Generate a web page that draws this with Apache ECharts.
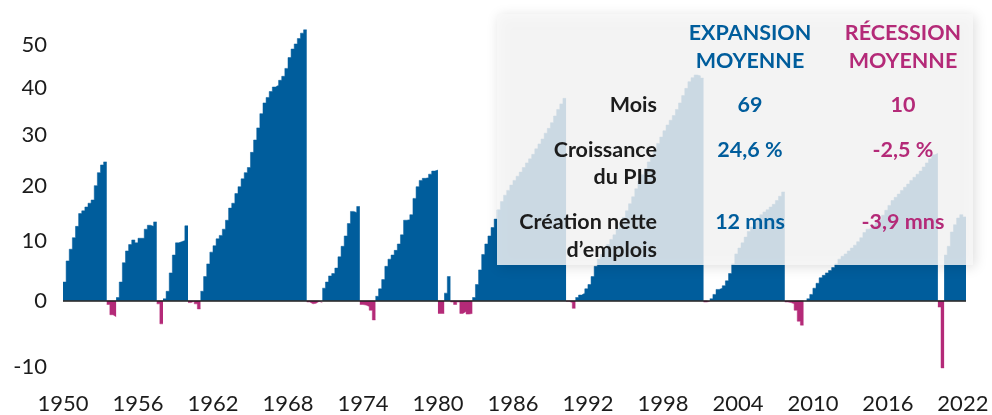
<!DOCTYPE html>
<html>
<head>
<meta charset="utf-8">
<script src="https://cdn.jsdelivr.net/npm/echarts@6/dist/echarts.min.js"></script>
<style>
  html, body { margin: 0; padding: 0; background: #fff; }
  #main { width: 992px; height: 415px; }
</style>
</head>
<body>
<div id="main"></div>
<script>
'use strict';

// x axis: quarters counted from 1950 Q1, 289 quarters up to 2022 Q1
var firstYear = 1950;
var quarterCount = 289;
var xTickYears = [1950, 1956, 1962, 1968, 1974, 1980, 1986, 1992, 1998, 2004, 2010, 2016, 2022];

// y axis tick labels (cumulative % change, log scale)
var yTicks = [-10, 0, 10, 20, 30, 40, 50];

// expansions: start quarter + cumulative growth (%) per quarter
var expansionStarts = ['1950-Q1', '1954-Q2', '1958-Q1', '1961-Q1', '1970-Q4', '1975-Q1',
                       '1980-Q3', '1982-Q4', '1991-Q1', '2001-Q4', '2009-Q3', '2020-Q3'];
var expansionValues = [
    [3.0, 6.5, 8.5, 10.5, 12.5, 14.8, 15.3, 16.0, 16.7, 17.3, 20.0, 22.5, 24.0, 24.6],
    [0.5, 3.0, 6.2, 8.2, 9.3, 10.1, 9.6, 10.4, 10.4, 12.0, 12.7, 12.5, 13.3],
    [0.3, 1.5, 4.5, 7.5, 9.6, 9.8, 10.0, 12.6],
    [1.5, 3.9, 6.0, 8.0, 9.1, 10.3, 10.9, 12.0, 13.6, 15.8, 16.7, 18.5, 19.8, 21.3, 22.5, 23.5, 26.5,
     29.0, 31.5, 34.5, 36.8, 38.0, 39.3, 40.3, 40.7, 41.8, 42.7, 44.5, 47.0, 49.0, 50.2, 51.5, 52.8, 53.6],
    [2.0, 3.0, 4.0, 4.4, 5.3, 7.2, 9.0, 10.8, 13.0, 15.2, 15.0, 16.1],
    [0.7, 1.9, 3.4, 5.6, 6.8, 7.5, 8.3, 9.4, 11.0, 13.6, 13.7, 14.6, 17.6, 19.8, 21.0, 21.4, 21.5, 22.2, 22.8, 23.0],
    [1.2, 3.9],
    [0.5, 2.6, 5.0, 7.6, 9.4, 10.8, 12.3, 13.8, 15.5, 17.0, 18.2, 19.1, 20.1, 21.0, 21.8, 22.6, 23.5, 24.4,
     25.2, 26.1, 27.2, 28.2, 29.2, 30.4, 31.4, 32.6, 34.0, 35.4, 36.6, 37.8],
    [0.5, 0.9, 1.2, 1.9, 2.6, 3.9, 5.6, 6.8, 7.6, 8.5, 9.3, 10.2, 11.0, 12.0, 13.0, 14.1, 15.3, 16.6, 17.9,
     19.4, 20.9, 22.1, 23.3, 24.6, 25.8, 27.0, 28.3, 29.6, 30.9, 32.1, 33.1, 34.1, 35.4, 36.8, 38.4, 40.0,
     41.5, 42.4, 43.0, 42.8, 42.3],
    [0.3, 1.0, 1.8, 2.0, 2.4, 3.2, 4.4, 6.0, 7.7, 8.7, 9.6, 10.6, 11.6, 12.4, 13.2, 14.0, 14.6, 15.1,
     15.5, 16.0, 16.5, 17.2, 18.0, 18.8],
    [0.3, 1.0, 2.0, 2.8, 3.7, 4.1, 4.5, 4.9, 5.4, 6.0, 6.8, 7.3, 7.7, 8.2, 8.7, 9.2, 9.8, 10.5, 11.4, 12.0,
     12.3, 12.7, 13.1, 13.7, 14.5, 15.4, 16.3, 17.2, 17.8, 18.4, 19.1, 19.7, 20.3, 21.0, 21.6, 22.2, 22.8,
     23.6, 24.4, 25.2, 26.0, 26.3],
    [7.5, 9.0, 11.5, 12.8, 14.0, 14.6, 14.2]
];

// recessions: start quarter + cumulative change (%) per quarter
var recessionStarts = ['1953-Q3', '1957-Q3', '1960-Q1', '1969-Q3', '1973-Q4', '1980-Q1',
                       '1981-Q1', '1990-Q2', '2001-Q2', '2007-Q4', '2020-Q1'];
var recessionValues = [
    [-0.6, -2.2, -2.5],
    [-0.5, -3.6],
    [-0.3, -0.1, -0.5, -1.3],
    [-0.2, -0.5, -0.4, -0.1, -0.3],
    [-0.6, -0.7, -0.9, -1.5, -3.0],
    [-2.0, -2.0],
    [-0.2, -0.6, -0.2, -2.0, -1.7, -2.1, -2.0],
    [-0.1, -0.3, -1.2],
    [-0.2, -0.1],
    [-0.2, -0.3, -0.5, -1.5, -3.2, -3.8],
    [-1.0, -10.1]
];

var blue = '#005d9c';
var magenta = '#b42a78';
var ink = '#1c1c1c';
var font = 'Lato';

function qIndex(s) {
    var p = s.split('-Q');
    return (parseInt(p[0], 10) - firstYear) * 4 + parseInt(p[1], 10) - 1;
}
function toLog(v) { return Math.log(1 + v / 100); }

// each cycle becomes a stepped block: one step per quarter, broken by a gap
function steps(starts, values) {
    var out = [];
    starts.forEach(function (s, k) {
        var q0 = qIndex(s);
        var vals = values[k];
        vals.forEach(function (v, j) { out.push([q0 + j, toLog(v)]); });
        out.push([q0 + vals.length, toLog(vals[vals.length - 1])]);
        out.push([q0 + vals.length, '-']);
    });
    return out;
}
var expData = steps(expansionStarts, expansionValues);
var recData = steps(recessionStarts, recessionValues);

var myChart = echarts.init(document.getElementById('main'));

var boxX = 497, boxY = 14, boxW = 476, boxH = 251;
var colExp = 750, colRec = 903, colLab = 657;

function txt(text, x, y, color, align, lh) {
    return {
        type: 'text', x: x, y: y, z: 101,
        style: {
            text: text, fill: color, align: align, verticalAlign: 'middle',
            font: 'bold 21.5px ' + font, lineHeight: lh || 28
        }
    };
}

var option = {
    animation: false,
    grid: { left: 63, right: 26, top: 20, height: 365 },
    xAxis: {
        type: 'value',
        min: 0,
        max: quarterCount,
        axisLine: { show: false },
        axisTick: { show: false },
        splitLine: { show: false },
        axisLabel: {
            customValues: xTickYears.map(function (y) { return (y - firstYear) * 4; }),
            margin: 8,
            color: ink,
            fontFamily: font,
            fontSize: 22,
            formatter: function (v) { return String(firstYear + v / 4); }
        }
    },
    yAxis: {
        type: 'value',
        min: -0.1336,
        max: 0.4448,
        axisLine: { show: false },
        axisTick: { show: false },
        splitLine: { show: false },
        axisLabel: {
            customValues: yTicks.map(toLog),
            margin: 16,
            color: ink,
            fontFamily: font,
            fontSize: 22,
            formatter: function (v) { return Math.round(100 * (Math.exp(v) - 1)); }
        }
    },
    series: [
        {
            name: 'Expansion',
            type: 'line',
            step: 'end',
            data: expData,
            showSymbol: false,
            connectNulls: false,
            lineStyle: { width: 0.5, color: blue },
            areaStyle: { color: blue, opacity: 1 },
            markLine: {
                silent: true,
                symbol: 'none',
                label: { show: false },
                lineStyle: { color: ink, width: 1.5, type: 'solid' },
                data: [{ yAxis: 0 }]
            }
        },
        {
            name: 'Récession',
            type: 'line',
            step: 'end',
            data: recData,
            showSymbol: false,
            connectNulls: false,
            lineStyle: { width: 0.5, color: magenta },
            areaStyle: { color: magenta, opacity: 1 }
        }
    ],
    graphic: [
        {
            type: 'rect', z: 100,
            shape: { x: boxX, y: boxY, width: boxW, height: boxH },
            style: {
                fill: 'rgba(248,248,248,0.82)',
                shadowBlur: 12, shadowColor: 'rgba(0,0,0,0.16)',
                shadowOffsetX: 2, shadowOffsetY: 2
            }
        },
        txt('EXPANSION\nMOYENNE', colExp, 47, blue, 'center'),
        txt('RÉCESSION\nMOYENNE', colRec, 47, magenta, 'center'),
        txt('Mois', colLab, 105, ink, 'right'),
        txt('Croissance\ndu PIB', colLab, 163.5, ink, 'right', 27),
        txt('Création nette\nd’emplois', colLab, 236, ink, 'right'),
        txt('69', colExp, 105, blue, 'center'),
        txt('24,6 %', colExp, 150, blue, 'center'),
        txt('12 mns', colExp, 222, blue, 'center'),
        txt('10', colRec, 105, magenta, 'center'),
        txt('-2,5 %', colRec, 150, magenta, 'center'),
        txt('-3,9 mns', colRec, 222, magenta, 'center')
    ]
};

myChart.setOption(option);
</script>
</body>
</html>
